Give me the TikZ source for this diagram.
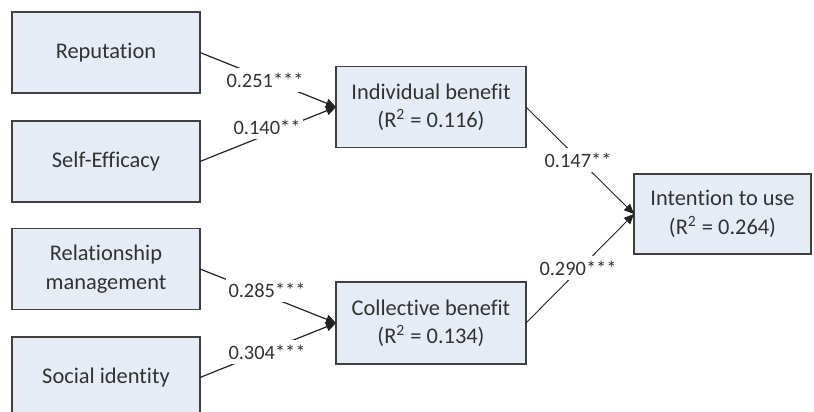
\documentclass[tikz,border=0pt]{standalone}
\usepackage{fontspec}
\setmainfont{Carlito}[Ligatures={NoCommon,NoRequired,NoContextual}]
\usetikzlibrary{arrows.meta}
\definecolor{boxfill}{RGB}{230,236,246}
\definecolor{boxline}{RGB}{64,64,64}
\definecolor{txt}{RGB}{50,50,50}
\definecolor{edge}{RGB}{35,35,35}
\tikzset{
  construct/.style={draw=boxline, line width=0.75pt, fill=boxfill, text=txt,
    minimum width=94pt, minimum height=40.5pt, align=center, inner sep=2pt,
    outer sep=0pt, font=\fontsize{11.2}{14.2}\selectfont},
  path/.style={draw=edge, line width=0.6pt, -{Triangle[length=5pt,width=4.6pt]}},
  thinpath/.style={draw=edge, line width=0.45pt, -{Triangle[length=5pt,width=4.4pt]}},
  coef/.style={fill=white, text=txt, inner xsep=1.5pt, inner ysep=2.5pt,
    font=\fontsize{10.2}{12}\selectfont}
}
\begin{document}
\begin{tikzpicture}[x=0.5pt, y=-0.5pt]
  \useasboundingbox (0,0) rectangle (814,412);
  \clip (0,0) rectangle (814,412);
  \fill[white] (0,0) rectangle (814,412);

  % antecedents
  \node[construct] (rep) at (106,52.5) {Reputation};
  \node[construct] (self) at (106,161.5) {Self-Efficacy};
  \node[construct] (rel) at (106,269) {Relationship\\management};
  \node[construct] (soc) at (106,377.5) {Social identity};

  % mediators
  \node[construct, minimum width=95pt] (ind) at (431,107) {Individual benefit\\(R\textsuperscript{2} = 0.116)};
  \node[construct, minimum width=95pt, minimum height=41pt] (col) at (431,323) {Collective benefit\\(R\textsuperscript{2} = 0.134)};

  % outcome
  \node[construct, minimum width=88.5pt, minimum height=40pt] (int) at (722.5,214) {Intention to use\\(R\textsuperscript{2} = 0.264)};

  % structural paths
  \draw[path] (rep.east) -- (ind.west);
  \draw[path] (self.east) -- (ind.west);
  \draw[path] (rel.east) -- (col.west);
  \draw[path] (soc.east) -- (col.west);
  \draw[thinpath] (ind.east) -- (int.west);
  \draw[thinpath] (col.east) -- (int.west);

  % path coefficients
  \node[coef] (c1) at (265,80) {0.251***};
  \node[coef] (c2) at (267,127) {0.140**};
  \node[coef] (c3) at (267,290) {0.285***};
  \node[coef] (c4) at (267,352) {0.304***};
  \node[coef] (c5) at (578,160) {0.147**};
  \node[coef] (c6) at (578,268) {0.290***};
\end{tikzpicture}
\end{document}
